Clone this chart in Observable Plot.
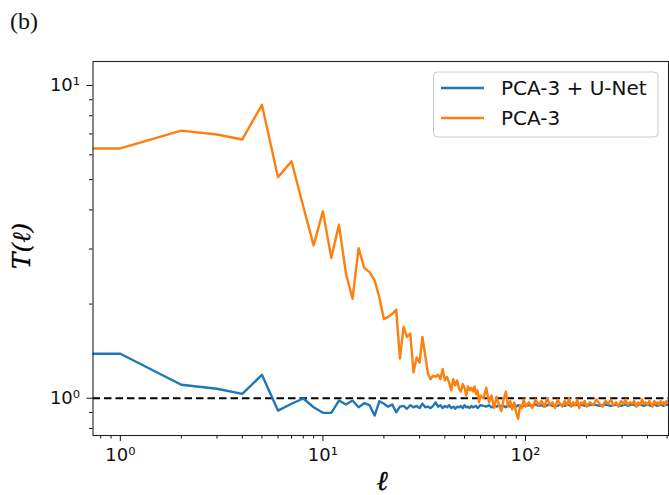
<!DOCTYPE html>
<html>
<head>
<meta charset="utf-8">
<script src="https://cdn.jsdelivr.net/npm/d3@7"></script>
<script src="https://cdn.jsdelivr.net/npm/@observablehq/plot@0.6"></script>
<style>
  body { margin: 0; background: #fff; }
  #chart svg { display: block; }
</style>
</head>
<body>
<div id="chart"></div>
<script>
// multipole ℓ (first entry stands for the clipped monopole, drawn at the left edge)
const ell = [0.5,
  1,2,3,4,5,6,7,8,9,10,11,12,13,14,15,16,17,18,19,20,
  21,22,23,24,25,26,27,28,29,30,31,32,33,34,35,36,37,38,39,40,
  41,42,43,44,45,46,47,48,49,50,51,52,53,54,55,56,57,58,59,60,
  62,64,66,68,70,72,74,76,78,80,82,84,86,88,90,92,94,96,98,100,
  104,108,112,116,120,124,128,132,136,140,144,148,152,156,160,164,168,172,176,180,184,188,192,196,200,
  208,216,224,232,240,248,256,264,272,280,288,296,304,312,320,328,336,344,352,360,368,376,384,392,400,
  408,416,424,432,440,448,456,464,472,480,488,496,512];

// PCA-3 transfer function
const tPCA = [6.29,
  6.29,7.17,6.97,6.72,8.67,5.09,5.72,4.10,3.08,3.96,2.81,3.59,2.50,2.08,3.02,2.61,2.53,2.38,2.10,1.79,
  1.82,1.86,1.92,1.34,1.69,1.57,1.61,1.21,1.35,1.30,1.57,1.37,1.20,1.15,1.18,1.17,1.19,1.15,1.24,1.14,
  1.17,1.12,1.06,1.15,1.10,1.14,1.07,1.05,1.11,1.08,1.02,1.09,1.06,1.08,1.05,1.09,1.03,1.06,0.97,1.02,
  1.00,1.08,0.97,1.02,0.93,1.01,0.95,0.91,0.99,1.05,0.94,0.98,0.92,0.97,0.90,0.86,0.95,0.93,0.99,0.94,
  0.97,0.93,0.99,0.95,0.98,0.94,1.00,0.95,0.97,0.93,0.99,0.96,0.94,0.98,0.95,1.00,0.94,0.97,0.95,0.99,0.93,0.97,0.96,0.98,0.94,
  0.97,0.95,0.99,0.96,0.94,0.98,0.96,0.99,0.95,0.97,0.94,0.98,0.96,0.99,0.95,0.97,0.96,0.98,0.94,0.97,0.95,0.99,0.96,0.97,0.95,
  0.98,0.96,0.94,0.98,0.96,0.97,0.95,0.98,0.96,0.97,0.95,0.98,0.97];

// PCA-3 + U-Net transfer function
const tUNet = [1.387,
  1.387,1.104,1.072,1.033,1.188,0.913,0.960,0.998,0.936,0.898,0.898,0.983,0.955,0.983,0.936,0.964,0.950,0.880,0.978,0.960,
  0.940,0.955,0.902,0.940,0.945,0.925,0.950,0.935,0.945,0.930,0.960,0.935,0.940,0.930,0.945,0.970,0.940,0.950,0.930,0.945,
  0.935,0.950,0.930,0.940,0.925,0.940,0.935,0.945,0.930,0.950,0.935,0.940,0.930,0.945,0.935,0.940,0.945,0.930,0.940,0.950,
  0.945,0.940,0.950,0.935,0.945,0.940,0.950,0.940,0.945,0.935,0.950,0.940,0.945,0.955,0.940,0.950,0.945,0.940,0.950,0.945,
  0.950,0.945,0.955,0.945,0.950,0.940,0.950,0.955,0.945,0.950,0.945,0.955,0.950,0.945,0.955,0.950,0.945,0.950,0.955,0.950,0.945,0.955,0.950,0.945,0.950,
  0.950,0.955,0.950,0.945,0.950,0.955,0.950,0.945,0.950,0.955,0.950,0.945,0.950,0.955,0.945,0.950,0.955,0.950,0.945,0.950,0.955,0.950,0.945,0.950,0.955,
  0.950,0.945,0.950,0.955,0.950,0.945,0.950,0.955,0.950,0.945,0.950,0.955,0.950];

const seriesNames = ["PCA-3 + U-Net", "PCA-3"];
const seriesColors = ["#1f77b4", "#ff7f0e"];

const xMajor = [1, 10, 100];
const xMinor = [0.8,0.9,2,3,4,5,6,7,8,9,20,30,40,50,60,70,80,90,200,300,400,500];
const yMajor = [1, 10];
const yMinor = [0.8,0.9,2,3,4,5,6,7,8,9];
const sup = {1: "10⁰", 10: "10¹", 100: "10²"};

const rowsUNet = ell.map((l, i) => ({l, t: tUNet[i]}));
const rowsPCA = ell.map((l, i) => ({l, t: tPCA[i]}));

const W = 669, H = 495;
const plot = Plot.plot({
  width: W, height: H,
  marginLeft: 92.5, marginRight: 1, marginTop: 61, marginBottom: 60,
  style: {fontFamily: "DejaVu Sans", color: "#111", background: "white"},
  x: {type: "log", domain: [0.733, 508]},
  y: {type: "log", domain: [0.76, 11.93]},
  marks: [
    Plot.ruleY([1], {stroke: "black", strokeWidth: 2, strokeDasharray: "7.5,4"}),
    Plot.line(rowsUNet, {x: "l", y: "t", stroke: seriesColors[0], strokeWidth: 2.4, clip: true}),
    Plot.line(rowsPCA, {x: "l", y: "t", stroke: seriesColors[1], strokeWidth: 2.4, clip: true}),
    Plot.axisX(xMajor, {tickSize: 6, tickPadding: 6.5, tickFormat: d => sup[d], fontSize: 18, label: null}),
    Plot.axisX(xMinor, {tickSize: 3.5, tickFormat: () => "", label: null}),
    Plot.axisY(yMajor, {tickSize: 6, tickPadding: 7, tickFormat: d => sup[d], fontSize: 18, label: null}),
    Plot.axisY(yMinor, {tickSize: 3.5, tickFormat: () => "", label: null}),
    Plot.frame({stroke: "#222", strokeWidth: 1.1})
  ]
});

document.getElementById("chart").appendChild(plot);

const svg = d3.select(plot);
// panel tag
svg.append("text").attr("x", 10).attr("y", 29).attr("text-anchor", "start")
  .attr("font-family", "'Liberation Serif', 'DejaVu Serif', serif")
  .attr("font-size", 24).attr("fill", "#111").text("(b)");
// axis titles
svg.append("text").attr("x", 382).attr("y", 490).attr("text-anchor", "middle")
  .attr("font-family", "'DejaVu Serif', serif").attr("font-style", "italic")
  .attr("font-size", 27).attr("fill", "#000").attr("stroke", "#000").attr("stroke-width", 0.4).text("ℓ");
svg.append("text").attr("transform", "translate(30,246) rotate(-90)").attr("text-anchor", "middle")
  .attr("font-family", "'DejaVu Serif', serif").attr("font-style", "italic")
  .attr("font-size", 25).attr("fill", "#000").attr("stroke", "#000").attr("stroke-width", 0.3).text("T(ℓ)");
// legend
const lg = svg.append("g");
lg.append("rect").attr("x", 433.5).attr("y", 72).attr("width", 224.5).attr("height", 65)
  .attr("rx", 4).attr("fill", "white").attr("fill-opacity", 0.85)
  .attr("stroke", "#cccccc").attr("stroke-width", 1);
seriesNames.forEach((name, i) => {
  const yy = 88 + i * 30;
  lg.append("line").attr("x1", 441).attr("x2", 484).attr("y1", yy).attr("y2", yy)
    .attr("stroke", seriesColors[i]).attr("stroke-width", 2.4);
  lg.append("text").attr("x", 501).attr("y", yy + 7).attr("text-anchor", "start")
    .attr("font-family", "'DejaVu Sans', sans-serif").attr("font-size", 20)
    .attr("fill", "#111").text(name);
});
</script>
</body>
</html>
